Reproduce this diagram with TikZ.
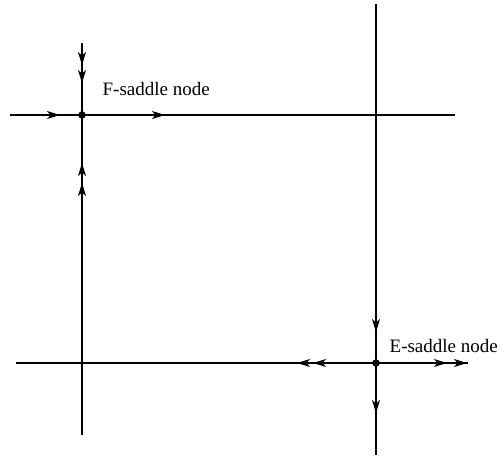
\documentclass[tikz,border=0pt]{standalone}
\usepackage{fontspec}
\setmainfont{Liberation Serif}
\usetikzlibrary{arrows.meta,decorations.markings,positioning}

\begin{document}
\begin{tikzpicture}[
    x=1pt, y=-1pt, line width=1.3pt,
    >={Stealth[length=13pt,width=8pt,inset=3.5pt]},
    dot/.style={circle, fill, inner sep=0pt, minimum size=7.5pt},
    lbl/.style={inner sep=0pt, anchor=base west, font=\fontsize{19}{22}\selectfont},
    flowat/.style={postaction={decorate, decoration={markings, mark=at position #1 with {\arrow{>}}}}}
]
\useasboundingbox (0,0) rectangle (504,456);

\node[dot] (F) at (82,115) {};
\node[dot] (E) at (376,363) {};

\coordinate (Fw) at (10,115);
\coordinate (Fe) at (455,115);
\coordinate (Fn) at (82,43);
\coordinate (Fs) at (82,435);
\coordinate (En) at (376,4);
\coordinate (Es) at (376,455);
\coordinate (Ew) at (16,363);
\coordinate (Ee) at (468,363);

\draw[flowat=50pt] (Fw) -- (F.center);
\draw[flowat=83pt] (F.center) -- (Fe);
\draw[flowat=22pt, flowat=40pt] (Fn) -- (F.center);
\draw[flowat=252pt, flowat=272pt] (Fs) -- (F.center);

\draw[flowat=328pt] (En) -- (E.center);
\draw[flowat=50pt] (E.center) -- (Es);
\draw[flowat=63pt, flowat=79pt] (E.center) -- (Ew);
\draw[flowat=71pt, flowat=91pt] (E.center) -- (Ee);

\node[lbl] (Flbl) at (102,95) {F-saddle node};
\node[lbl] (Elbl) at (389,352) {E-saddle node};

\end{tikzpicture}
\end{document}
